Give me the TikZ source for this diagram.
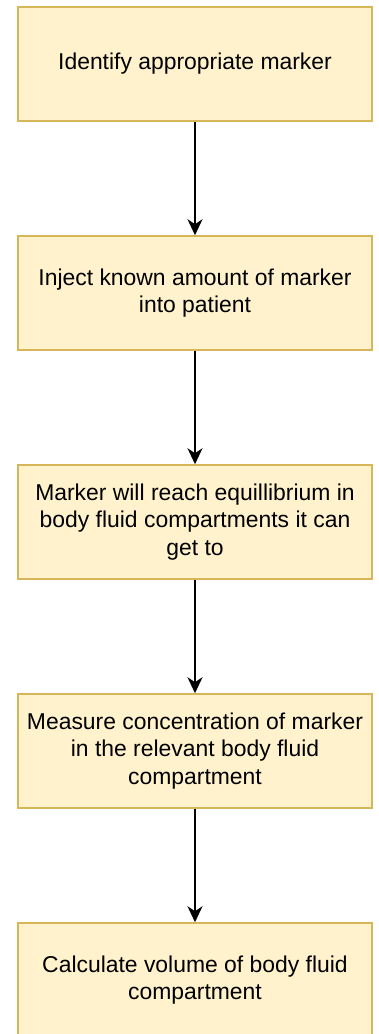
\documentclass[tikz,border=0pt]{standalone}
\usepackage{fontspec}
\setmainfont{Liberation Sans}
\usetikzlibrary{arrows.meta}
\definecolor{stepfill}{HTML}{FFF2CC}
\definecolor{stepline}{HTML}{D6B656}
\begin{document}
\begin{tikzpicture}[x=1pt,y=1pt,
  stepbox/.style={draw=stepline, fill=stepfill, line width=1.5pt,
    minimum width=354pt, minimum height=114pt, inner sep=0pt,
    align=center, font=\fontsize{22.9}{27.5}\selectfont},
  flow/.style={draw=black, line width=1.8pt,
    -{Stealth[length=16pt,width=15pt,inset=5pt]}}]
  \useasboundingbox (0,0) rectangle (378,-1034);
  \node[stepbox] (s1) at (195,-64)  {Identify appropriate marker};
  \node[stepbox] (s2) at (195,-293) {Inject known amount of marker\\into patient};
  \node[stepbox] (s3) at (195,-522) {Marker will reach equillibrium in\\body fluid compartments it can\\get to};
  \node[stepbox] (s4) at (195,-751) {Measure concentration of marker\\in the relevant body fluid\\compartment};
  \node[stepbox] (s5) at (195,-980) {Calculate volume of body fluid\\compartment};
  \draw[flow] (s1) -- (s2);
  \draw[flow] (s2) -- (s3);
  \draw[flow] (s3) -- (s4);
  \draw[flow] (s4) -- (s5);
\end{tikzpicture}
\end{document}
